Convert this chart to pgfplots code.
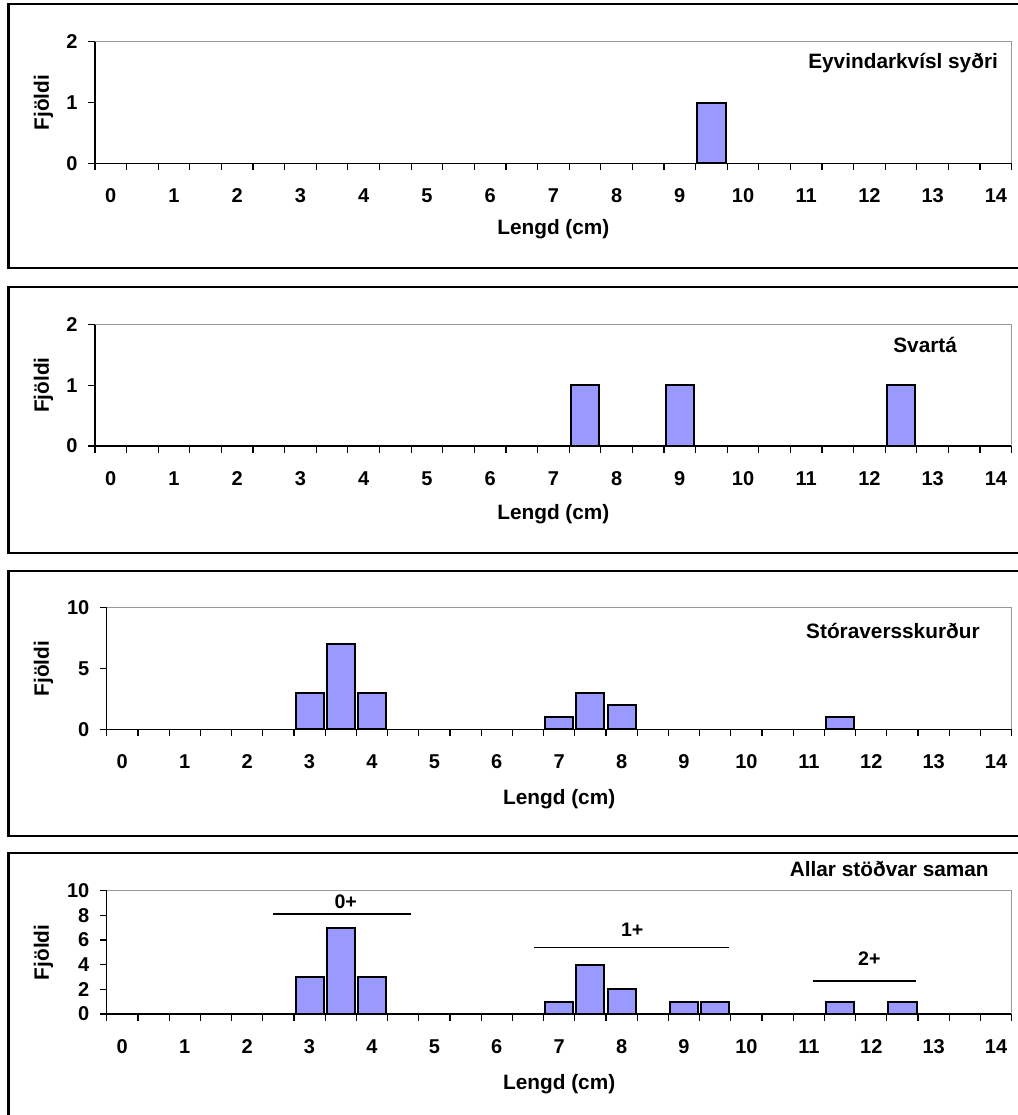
\documentclass[border=0pt]{standalone}
\usepackage{pgfplots}
\pgfplotsset{compat=1.18}
\usepackage{fontspec}
\setmainfont{Liberation Sans}
\definecolor{barfill}{HTML}{9999FF}
\pgfplotsset{
 panel/.style={
  scale only axis, axis lines*=left, axis line style={-, line width=0.7pt, black},
  xmin=-0.25, xmax=14.25, ymin=0,
  xtick={-0.25,0.25,...,14.25}, xticklabels={},
  extra x ticks={0,1,2,3,4,5,6,7,8,9,10,11,12,13,14},
  extra x tick labels={0,1,2,3,4,5,6,7,8,9,10,11,12,13,14},
  extra x tick style={tick style={draw=none}},
  tick align=outside, major tick length=3.4pt, tick style={black, line width=0.6pt},
  ticklabel style={font=\fontsize{10}{12}\selectfont\bfseries},
  /pgf/number format/assume math mode=true,
  xticklabel style={anchor=base, inner sep=0pt, yshift=-16.4pt},
  yticklabel style={anchor=east, inner sep=0pt, xshift=-5.1pt},
  label style={font=\fontsize{10.4}{12}\selectfont\bfseries},
  ylabel={Fjöldi}, xlabel={Lengd (cm)},
  clip=false,
 },
 bars/.style={ybar, bar width=0.45, fill=barfill, draw=black, line width=1pt},
}
\tikzset{
 ttl/.style={anchor=base east, inner sep=0pt, font=\fontsize{10.4}{12}\selectfont\bfseries},
 ann/.style={anchor=base, inner sep=0pt, font=\fontsize{9.8}{11}\selectfont\bfseries},
}
\begin{document}
\begin{tikzpicture}
\useasboundingbox (0,0) rectangle (509pt,-557.5pt);
\clip (0,0) rectangle (509pt,-557.5pt);
% frames
\draw[line width=1.2pt] (4.15pt,-2pt) rectangle (515pt,-134pt);
\draw[line width=1.2pt] (4.15pt,-143.35pt) rectangle (515pt,-276.35pt);
\draw[line width=1.2pt] (4.15pt,-285.5pt) rectangle (515pt,-418pt);
\draw[line width=1.2pt] (4.15pt,-426.5pt) rectangle (515pt,-565pt);

% Panel 1
\begin{axis}[panel, at={(47.5pt,-81.65pt)}, anchor=south west,
  width=458.35pt, height=60.8pt, ymax=2, ytick={0,1,2},
  ylabel style={at={(axis description cs:-0.0562,0.5)}, anchor=center},
  xlabel style={at={(axis description cs:0.5,-0.541)}, anchor=center}]
\draw[gray!80, line width=0.7pt] (rel axis cs:0,1) -- (rel axis cs:1,1) -- (rel axis cs:1,0);
\addplot[bars] coordinates {(9.5,1)};
\node[ttl] at (rel axis cs:0.9854,0.781) {Eyvindarkvísl syðri};
\end{axis}

% Panel 2
\begin{axis}[panel, at={(47.5pt,-223pt)}, anchor=south west,
  width=458.35pt, height=60.8pt, ymax=2, ytick={0,1,2},
  ylabel style={at={(axis description cs:-0.0562,0.5)}, anchor=center},
  xlabel style={at={(axis description cs:0.5,-0.56)}, anchor=center}]
\draw[gray!80, line width=0.7pt] (rel axis cs:0,1) -- (rel axis cs:1,1) -- (rel axis cs:1,0);
\addplot[bars] coordinates {(7.5,1) (9,1) (12.5,1)};
\node[ttl] at (rel axis cs:0.9407,0.767) {Svartá};
\end{axis}

% Panel 3
\begin{axis}[panel, at={(53.35pt,-364.65pt)}, anchor=south west,
  width=452.5pt, height=60.8pt, ymax=10, ytick={0,5,10},
  ylabel style={at={(axis description cs:-0.0698,0.5)}, anchor=center},
  xlabel style={at={(axis description cs:0.5,-0.572)}, anchor=center}]
\draw[gray!80, line width=0.7pt] (rel axis cs:0,1) -- (rel axis cs:1,1) -- (rel axis cs:1,0);
\addplot[bars] coordinates {(3,3) (3.5,7) (4,3) (7,1) (7.5,3) (8,2) (11.5,1)};
\node[ttl] at (rel axis cs:0.965,0.748) {Stóraversskurður};
\end{axis}

% Panel 4
\begin{axis}[panel, at={(53.35pt,-507pt)}, anchor=south west,
  width=452.5pt, height=61.65pt, ymax=10, ytick={0,2,4,6,8,10},
  ylabel style={at={(axis description cs:-0.0698,0.5)}, anchor=center},
  xlabel style={at={(axis description cs:0.5,-0.568)}, anchor=center}]
\draw[gray!80, line width=0.7pt] (rel axis cs:0,1) -- (rel axis cs:1,1) -- (rel axis cs:1,0);
\addplot[bars] coordinates {(3,3) (3.5,7) (4,3) (7,1) (7.5,4) (8,2) (9,1) (9.5,1) (11.5,1) (12.5,1)};
\addplot[black, line width=0.8pt, no marks] coordinates {(2.415,8.1) (4.62,8.1)};
\addplot[black, line width=0.8pt, no marks] coordinates {(6.60,5.41) (9.72,5.41)};
\addplot[black, line width=0.8pt, no marks] coordinates {(11.06,2.70) (12.72,2.70)};
\node[ann] at (axis cs:3.58,8.57) {0+};
\node[ann] at (axis cs:8.17,6.27) {1+};
\node[ann] at (axis cs:11.97,3.97) {2+};
\node[ttl] at (rel axis cs:0.975,1.119) {Allar stöðvar saman};
\end{axis}
\end{tikzpicture}
\end{document}
